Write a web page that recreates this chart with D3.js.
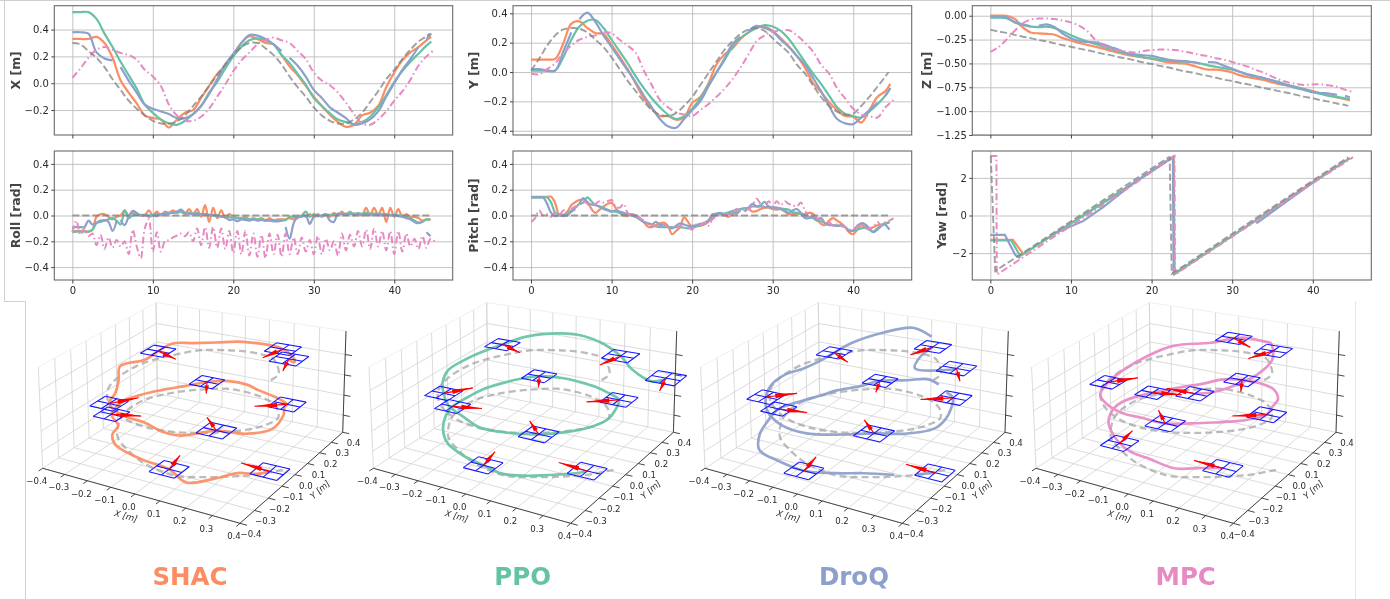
<!DOCTYPE html>
<html>
<head>
<meta charset="utf-8">
<script src="https://cdn.jsdelivr.net/npm/d3@7"></script>
<style>
  html, body { margin: 0; padding: 0; background: #fff; }
  svg { display: block; filter: blur(0.35px); }
  text { font-family: "DejaVu Sans", sans-serif; fill: #2a2a2a; }
</style>
</head>
<body>
<svg id="canvas" width="1390" height="599"></svg>
<script>
// time bases, seconds
const tRobot = [...d3.range(45), 44.6]
const tMpc = d3.range(46)
const tRef = [...d3.range(45), 44.4]
const tRobotFine = d3.range(0, 45, 0.5)
const tMpcFine = d3.range(0, 45.5, 0.5)
const tRefFlat = [0, 44.4]

const refX = [.30,.29,.24,.19,.12,.03,-.05,-.13,-.19,-.24,-.28,-.30,-.30,-.285,-.24,-.17,-.10,-.02,.06,.14,.21,.27,.30,.30,.26,.21,.14,.05,-.03,-.10,-.18,-.24,-.28,-.30,-.30,-.27,-.22,-.14,-.06,.03,.10,.18,.25,.31,.35,.37]
const shacX = [.33,.33,.33,.345,.30,.19,.02,-.07,-.15,-.24,-.26,-.27,-.33,-.27,-.22,-.20,-.11,-.02,.07,.13,.21,.30,.35,.33,.30,.29,.21,.125,.06,-.02,-.10,-.17,-.235,-.29,-.325,-.31,-.24,-.22,-.17,-.03,.08,.17,.23,.27,.32,.345]
const ppoX = [.53,.53,.53,.48,.37,.27,.16,.06,-.04,-.16,-.22,-.27,-.30,-.31,-.28,-.23,-.17,-.07,.01,.11,.20,.27,.32,.335,.32,.29,.21,.15,.07,-.01,-.11,-.17,-.225,-.27,-.29,-.305,-.29,-.25,-.18,-.09,.01,.09,.16,.22,.28,.31]
const droqX = [.38,.38,.37,.23,.185,.17,.12,.02,-.07,-.16,-.19,-.21,-.23,-.26,-.26,-.23,-.17,-.08,.03,.14,.22,.30,.36,.355,.33,.29,.24,.19,.13,.05,-.05,-.11,-.18,-.22,-.26,-.31,-.30,-.27,-.21,-.10,0,.10,.18,.27,.33,.37]
const mpcX = [.04,.11,.19,.25,.27,.25,.225,.21,.175,.10,.05,-.02,-.16,-.24,-.28,-.28,-.25,-.19,-.10,-.01,.09,.17,.23,.29,.32,.34,.32,.30,.24,.18,.08,.02,-.015,-.07,-.145,-.23,-.30,-.31,-.27,-.21,-.13,-.06,.025,.13,.20,.25]

const refY = [.01,.09,.18,.25,.29,.30,.295,.27,.22,.17,.10,.02,-.06,-.13,-.20,-.26,-.29,-.30,-.28,-.23,-.17,-.09,-.01,.07,.15,.21,.26,.29,.30,.28,.23,.18,.13,.05,-.01,-.09,-.17,-.23,-.27,-.29,-.285,-.23,-.17,-.10,-.03,0]
const shacY = [.085,.085,.085,.09,.195,.33,.345,.30,.265,.26,.185,.105,.02,-.08,-.18,-.25,-.30,-.30,-.325,-.31,-.21,-.17,-.08,.05,.12,.16,.225,.27,.30,.31,.28,.23,.175,.11,.03,-.075,-.135,-.205,-.26,-.30,-.305,-.345,-.26,-.17,-.13,-.08]
const ppoY = [.01,.01,.01,.01,.10,.22,.31,.35,.355,.30,.22,.14,.06,-.03,-.11,-.18,-.24,-.29,-.32,-.30,-.25,-.18,-.09,-.005,.08,.17,.23,.27,.30,.32,.31,.28,.225,.15,.07,-.01,-.08,-.16,-.24,-.285,-.30,-.31,-.27,-.22,-.16,-.11]
const droqY = [.02,.02,.01,.01,.14,.27,.36,.405,.34,.25,.17,.09,.01,-.07,-.16,-.24,-.32,-.37,-.38,-.32,-.26,-.20,-.10,-.005,.09,.19,.24,.28,.315,.30,.275,.22,.17,.11,.05,-.04,-.13,-.23,-.32,-.35,-.355,-.31,-.26,-.21,-.16,-.11]
const mpcY = [-.01,-.015,.02,.06,.13,.18,.22,.24,.25,.27,.265,.22,.18,.13,.01,-.09,-.19,-.24,-.275,-.29,-.30,-.26,-.22,-.17,-.115,-.05,.03,.12,.21,.25,.275,.28,.285,.25,.20,.14,.05,-.01,-.11,-.18,-.25,-.29,-.30,-.31,-.24,-.19]

const refZ = [-.145,-.165,-.18,-.20,-.22,-.235,-.255,-.27,-.29,-.31,-.325,-.345,-.36,-.38,-.40,-.415,-.435,-.45,-.47,-.49,-.505,-.525,-.54,-.56,-.58,-.595,-.615,-.63,-.65,-.67,-.685,-.705,-.72,-.74,-.76,-.775,-.795,-.81,-.83,-.85,-.865,-.885,-.90,-.92,-.935,-.945]
const shacZ = [0,0,0,-.03,-.12,-.175,-.185,-.19,-.20,-.235,-.26,-.285,-.305,-.325,-.345,-.37,-.39,-.41,-.425,-.44,-.45,-.47,-.49,-.495,-.50,-.52,-.545,-.565,-.565,-.575,-.595,-.625,-.645,-.66,-.675,-.70,-.72,-.73,-.75,-.77,-.79,-.815,-.835,-.855,-.875,-.89]
const ppoZ = [-.02,-.02,-.025,-.07,-.095,-.115,-.12,-.115,-.13,-.165,-.205,-.24,-.27,-.295,-.325,-.35,-.38,-.40,-.42,-.435,-.45,-.46,-.47,-.475,-.48,-.485,-.50,-.52,-.535,-.55,-.565,-.59,-.615,-.635,-.655,-.68,-.70,-.73,-.75,-.77,-.80,-.82,-.84,-.85,-.865,-.875]
const droqZ = [-.01,-.01,-.015,-.065,-.09,-.11,-.105,-.09,-.12,-.19,-.235,-.265,-.275,-.28,-.30,-.33,-.36,-.395,-.405,-.415,-.42,-.44,-.46,-.47,-.475,-.485,-.50,-.485,-.49,-.525,-.555,-.59,-.62,-.64,-.655,-.68,-.71,-.735,-.76,-.78,-.80,-.81,-.815,-.83,-.84,-.855]
const mpcZ = [-.38,-.33,-.25,-.16,-.08,-.04,-.03,-.03,-.035,-.05,-.07,-.105,-.16,-.25,-.315,-.345,-.365,-.375,-.385,-.37,-.36,-.355,-.355,-.36,-.375,-.39,-.41,-.425,-.445,-.46,-.485,-.51,-.535,-.57,-.60,-.64,-.675,-.70,-.715,-.725,-.72,-.72,-.73,-.745,-.775,-.80]

const refFlat = [0, 0]
const shacRoll = [-.12,-.12,-.12,-.12,-.125,-.11,-.01,.01,.01,-.01,-.03,-.01,0,.04,0,.02,.01,0,0,.04,0,.03,0,.03,.02,.04,.02,.04,.01,.05,.01,.05,-.01,.08,-.05,.06,-.02,.04,-.02,.01,-.01,-.02,-.02,-.01,-.03,-.02,-.03,-.02,-.04,-.02,-.04,-.03,-.03,-.03,-.02,-.03,-.02,0,-.01,.01,-.01,.01,-.01,.01,-.01,.02,0,.03,0,.03,0,.02,0,.06,0,.06,0,.06,-.05,.06,-.01,.05,-.01,.01,-.01,-.01,-.02,-.04,-.03,-.03]
const ppoRoll = [-.13,-.125,-.125,-.125,-.125,-.11,-.06,-.05,-.04,-.03,-.02,-.04,-.07,.04,-.02,0,.005,.005,.005,0,.005,.01,.01,.015,.02,.02,.025,.025,.02,.02,.015,.02,.01,.01,0,.005,0,-.005,-.01,-.015,-.015,-.02,-.025,-.025,-.03,-.03,-.03,-.03,-.035,-.035,-.035,-.04,-.04,-.035,-.01,-.01,-.015,0,.03,-.01,.01,-.005,0,.005,.005,.01,.01,.01,.015,.02,.015,.015,.015,.02,.015,.015,.015,.01,.01,.005,.005,0,0,-.01,-.02,-.04,-.055,-.05,-.03,-.035]
const droqRoll = [-.09,-.09,-.09,-.09,-.04,-.07,-.055,-.04,-.035,-.05,-.12,-.04,-.035,-.075,-.01,.035,.02,0,.005,-.01,0,-.005,.01,.015,.015,.025,.03,.045,.02,.015,.01,.015,.01,.01,.005,0,-.005,-.01,-.01,-.035,-.03,-.045,-.03,-.035,-.04,-.03,-.04,-.035,-.04,-.04,-.045,-.045,-.04,-.09,-.18,-.06,-.01,-.01,0,-.065,-.01,-.005,0,.01,-.04,-.05,.015,.01,.005,.01,.01,.01,.005,.01,.005,.01,.005,0,.005,0,0,-.005,-.01,-.02,-.03,-.05,-.06,-.045,-.13,-.16]
const mpcRoll = [-.13,-.04,-.15,-.1,-.16,-.14,-.23,-.15,-.26,-.17,-.25,-.19,-.24,-.2,-.3,-.11,-.24,-.33,-.1,-.03,-.28,-.13,-.28,-.2,-.19,-.17,-.155,-.14,-.16,-.13,-.2,-.1,-.23,-.09,-.25,-.09,-.25,-.1,-.26,-.12,-.29,-.12,-.3,-.12,-.31,-.14,-.32,-.15,-.33,-.14,-.3,-.15,-.32,-.14,-.3,-.17,-.3,-.17,-.28,-.19,-.3,-.16,-.3,-.18,-.27,-.2,-.31,-.14,-.27,-.15,-.24,-.12,-.24,-.11,-.26,-.1,-.24,-.12,-.27,-.12,-.3,-.12,-.28,-.14,-.24,-.18,-.26,-.16,-.25,-.18,-.2]

const shacPitch = [.145,.145,.145,.145,.145,.145,.095,.005,.005,.03,.08,.105,.12,.125,.105,.05,.02,.045,.07,.09,.10,.06,.02,0,-.005,.01,0,-.02,-.05,-.085,-.09,-.075,-.06,-.055,-.08,-.145,-.12,-.09,-.015,-.05,-.09,-.085,-.08,-.07,-.05,.01,.01,.015,.005,-.01,.01,.03,.05,.055,.05,.03,.035,.05,.06,.06,.05,.045,.05,.03,.01,.01,.015,.015,.01,.02,.015,-.03,-.065,-.075,-.04,-.02,-.04,-.06,-.09,-.13,-.145,-.11,-.075,-.09,-.10,-.09,-.075,-.07,-.06,-.055]
const ppoPitch = [.14,.14,.14,.14,.14,.10,.02,.01,0,.01,.04,.06,.09,.10,.14,.11,.08,.07,.06,.045,.035,.03,.02,.01,.01,0,-.01,-.03,-.05,-.06,-.07,-.085,-.09,-.09,-.09,-.09,-.09,-.09,-.095,-.10,-.095,-.085,-.075,-.06,-.04,-.02,0,.01,.015,.025,.035,.045,.05,.055,.06,.07,.07,.08,.105,.07,.065,.06,.055,.05,.045,.025,.02,.01,0,-.01,-.02,-.04,-.045,-.06,-.07,-.075,-.08,-.08,-.09,-.115,-.12,-.11,-.10,-.095,-.11,-.125,-.10,-.08,-.065,-.05]
const droqPitch = [.14,.14,.14,.14,.09,.02,-.005,0,-.005,0,.03,.05,.09,.135,.10,.085,.08,.07,.05,.04,.03,.04,.03,.02,.01,0,-.01,-.03,-.05,-.06,-.07,-.05,-.075,-.07,-.09,-.10,-.08,-.06,-.07,-.08,-.08,-.075,-.065,-.06,-.04,0,.015,.02,.01,.01,.025,.015,.04,.03,.06,.09,.07,.07,.065,.065,.06,.06,.05,.04,.02,.04,.05,.02,-.02,-.02,-.01,-.03,-.02,-.06,-.075,-.075,-.08,-.075,-.09,-.12,-.115,-.08,-.06,-.07,-.10,-.13,-.11,-.08,-.07,-.11]
const mpcPitch = [-.05,-.02,.04,0,.01,-.01,.03,0,.04,.03,.05,.07,.08,.11,.09,.06,.09,.11,.10,.11,.12,.07,.06,.09,.02,.01,0,-.02,-.04,-.06,-.07,-.08,-.09,-.07,-.09,-.085,-.10,-.075,-.10,-.09,-.11,-.07,-.075,-.055,-.08,-.03,-.01,.01,0,.02,.02,.05,.03,.05,.05,.08,.13,.09,.07,.11,.07,.11,.08,.11,.09,.08,.07,.10,.04,-.01,.01,-.02,-.03,-.05,-.05,-.08,-.07,-.08,-.09,-.11,-.10,-.09,-.07,-.10,-.10,-.09,-.05,-.08,-.05,-.04,-.02]

// yaw is a ramp with wrap-arounds, so it only has breakpoints
const refYawT = [0, .05, .6, 22.15, 22.25, 22.5, 44.4]
const refYaw = [3.14, 3.14, -2.95, 3.1, 3.1, -3.1, 3.1]
const shacYawT = [0, 2.8, 4.1, 8, 13, 18, 22.75, 22.85, 33, 40, 44.6]
const shacYaw = [-1.3, -1.3, -2.05, -.95, .42, 1.8, 3.12, -3.12, -.23, 1.77, 3.05]
const ppoYawT = [0, 2.6, 3.7, 8, 13, 18, 22.7, 22.8, 33, 40, 44.6]
const ppoYaw = [-1.33, -1.33, -2.15, -.98, .4, 1.78, 3.12, -3.1, -.25, 1.75, 3.05]
const droqYawT = [0, 1.8, 3.1, 3.7, 8, 11.5, 14, 18, 22.65, 22.75, 33, 40, 44.6]
const droqYaw = [-1.03, -1.03, -2.1, -2.27, -.95, -.3, .45, 1.8, 3.12, -3.12, -.42, 1.75, 3.05]
const mpcYawT = [0, .75, .8, 8, 13, 18, 22.85, 22.9, 33, 40, 45]
const mpcYaw = [3.17, 3.17, -3.15, -1.1, .28, 1.72, 3.16, -3.14, -.28, 1.72, 3.1]

// the DroQ log drops out for a moment at these times
const droqGaps = [5.6, 26.4, 43.9]

const timeTicks = [0, 10, 20, 30, 40]
const xyzTicks3d = [-.4, -.3, -.2, -.1, 0, .1, .2, .3, .4]
const zTicks3d = [-.8, -.6, -.4, -.2]
const droneEvery = d3.range(0, 46, 5)

const colShac = '#fc8d62', colPpo = '#66c2a5', colDroq = '#8da0cb', colMpc = '#e78ac3', colRef = '#808080'

const methods = [
    {name: 'SHAC', color: colShac, t: tRobot, tf: tRobotFine, x: shacX, y: shacY, z: shacZ, roll: shacRoll, pitch: shacPitch, yawT: shacYawT, yaw: shacYaw, gaps: [], dx: 0, labelX: 190},
    {name: 'PPO', color: colPpo, t: tRobot, tf: tRobotFine, x: ppoX, y: ppoY, z: ppoZ, roll: ppoRoll, pitch: ppoPitch, yawT: ppoYawT, yaw: ppoYaw, gaps: [], dx: 330.7, labelX: 522.7},
    {name: 'DroQ', color: colDroq, t: tRobot, tf: tRobotFine, x: droqX, y: droqY, z: droqZ, roll: droqRoll, pitch: droqPitch, yawT: droqYawT, yaw: droqYaw, gaps: droqGaps, dx: 662.3, labelX: 854},
    {name: 'MPC', color: colMpc, t: tMpc, tf: tMpcFine, x: mpcX, y: mpcY, z: mpcZ, roll: mpcRoll, pitch: mpcPitch, yawT: mpcYawT, yaw: mpcYaw, gaps: [], dx: 993.3, labelX: 1185.7}
]

let canvas = d3.select('#canvas')

// faint frame left over from the pasted figures
canvas.append('path')
    .attr('d', 'M0,0.5H1390M4.5,0V301.5H25.5V599')
    .attr('fill', 'none').attr('stroke', '#cfcfcf').attr('stroke-width', 1)
canvas.append('path')
    .attr('d', 'M1355.5,301V599')
    .attr('fill', 'none').attr('stroke', '#e6e6e6').attr('stroke-width', 1)

// ---------- top charts ----------
const panelLeft = [54.3, 513, 972.3]
const panelRight = [452.7, 911.7, 1371.3]
const rowTop = [5.7, 151]
const rowBottom = [135, 280]

const panels = [
    {label: 'X [m]', col: 0, row: 0, dom: [-.386, .578], ticks: [-.2, 0, .2, .4], fmt: '.1f', key: 'x', ref: refX, labelX: 15.7},
    {label: 'Y [m]', col: 1, row: 0, dom: [-.429, .452], ticks: [-.4, -.2, 0, .2, .4], fmt: '.1f', key: 'y', ref: refY, labelX: 473.3},
    {label: 'Z [m]', col: 2, row: 0, dom: [-1.25, .105], ticks: [-1.25, -1, -.75, -.5, -.25, 0], fmt: '.2f', key: 'z', ref: refZ, labelX: 927},
    {label: 'Roll [rad]', col: 0, row: 1, dom: [-.5, .5], ticks: [-.4, -.2, 0, .2, .4], fmt: '.1f', key: 'roll', labelX: 15.7},
    {label: 'Pitch [rad]', col: 1, row: 1, dom: [-.5, .5], ticks: [-.4, -.2, 0, .2, .4], fmt: '.1f', key: 'pitch', labelX: 474},
    {label: 'Yaw [rad]', col: 2, row: 1, dom: [-3.43, 3.43], ticks: [-2, 0, 2], fmt: 'd', key: 'yaw', labelX: 941.7}
]

// cut a list of points wherever a gap time falls between two neighbours
function splitAtGaps(points, gaps) {
    let parts = [[]]
    points.forEach((p, i) => {
        if (i > 0 && gaps.some((g) => points[i - 1].t <= g && g < p.t)) parts.push([])
        parts[parts.length - 1].push(p)
    })
    return parts
}

function drawPanel(panel) {
    let left = panelLeft[panel.col], right = panelRight[panel.col]
    let top = rowTop[panel.row], bottom = rowBottom[panel.row]
    let xScale = d3.scaleLinear().domain([-2.24, 47.26]).range([left, right])
    let yScale = d3.scaleLinear().domain(panel.dom).range([bottom, top])

    let g = canvas.append('g')

    g.append('g').attr('transform', 'translate(0,' + bottom + ')')
        .call(d3.axisBottom(xScale).tickValues(timeTicks).tickSize(top - bottom).tickFormat(''))
        .call((a) => a.select('.domain').remove())
        .selectAll('line').attr('stroke', '#bcbcbc').attr('stroke-width', 0.9)
    g.append('g').attr('transform', 'translate(' + left + ',0)')
        .call(d3.axisLeft(yScale).tickValues(panel.ticks).tickSize(left - right).tickFormat(''))
        .call((a) => a.select('.domain').remove())
        .selectAll('line').attr('stroke', '#bcbcbc').attr('stroke-width', 0.9)

    let line = d3.line().x((p) => xScale(p.t)).y((p) => yScale(p.v))
        .curve(panel.key === 'yaw' ? d3.curveLinear : d3.curveCatmullRom)

    let series = methods.map((m) => {
        let ts = m.t
        if (panel.key === 'roll' || panel.key === 'pitch') ts = m.tf
        if (panel.key === 'yaw') ts = m.yawT
        return {m: m, points: m[panel.key].map((v, i) => ({t: ts[i], v: v}))}
    })
    let refValues = panel.ref || (panel.key === 'yaw' ? refYaw : refFlat)
    let refTimes = panel.ref ? tRef : (panel.key === 'yaw' ? refYawT : tRefFlat)

    series.forEach((s) => {
        splitAtGaps(s.points, s.m.gaps).forEach((part) => {
            g.append('path').attr('d', line(part))
                .attr('fill', 'none').attr('stroke', s.m.color)
                .attr('stroke-width', s.m.name === 'MPC' ? 2 : 2.2)
                .attr('stroke-dasharray', s.m.name === 'MPC' ? '7,3,1.5,3' : null)
        })
    })
    g.append('path').attr('d', line(refValues.map((v, i) => ({t: refTimes[i], v: v}))))
        .attr('fill', 'none').attr('stroke', colRef).attr('stroke-opacity', 0.75)
        .attr('stroke-width', 1.9).attr('stroke-dasharray', '7,3')

    g.append('rect').attr('x', left).attr('y', top)
        .attr('width', right - left).attr('height', bottom - top)
        .attr('fill', 'none').attr('stroke', '#6a6a6a').attr('stroke-width', 1.1)

    let xAxis = g.append('g').attr('transform', 'translate(0,' + bottom + ')')
        .call(d3.axisBottom(xScale).tickValues(timeTicks).tickSize(3.5).tickPadding(3.5)
            .tickFormat(panel.row === 1 ? d3.format('d') : ''))
    let yAxis = g.append('g').attr('transform', 'translate(' + left + ',0)')
        .call(d3.axisLeft(yScale).tickValues(panel.ticks).tickSize(3).tickPadding(2.5)
            .tickFormat(d3.format(panel.fmt)))
    ;[xAxis, yAxis].forEach((a) => {
        a.select('.domain').remove()
        a.selectAll('text').attr('font-size', 10).attr('font-family', '"DejaVu Sans"').attr('fill', '#2a2a2a')
        a.selectAll('line').attr('stroke', '#444')
    })

    g.append('text').text(panel.label)
        .attr('transform', 'translate(' + panel.labelX + ',' + (top + bottom) / 2 + ') rotate(-90)')
        .attr('text-anchor', 'middle').attr('dy', '0.35em')
        .attr('font-size', 12.4).attr('font-weight', 'bold').style('fill', '#444')
}

panels.forEach(drawPanel)

// ---------- 3D views ----------
const zLimits = [-.973, .027]
const uScale = d3.scaleLinear().domain([-.4, .4]).range([0, 1])
const wScale = d3.scaleLinear().domain(zLimits).range([0, 1])

// camera from the box corners of the first view: A(x-,y-) B(x+,y-) C(x+,y+) D(x-,y+) on
// the floor, plus the tops of A and C
const cornerA = [42.7, 468.3], cornerB = [240, 523.3], cornerC = [342.7, 432.3], cornerD = [157.3, 393.5]
const topA = [38.3, 367], topC = [346, 333]

function makeCamera() {
    let [x0, y0] = cornerA, [x1, y1] = cornerB, [x2, y2] = cornerC, [x3, y3] = cornerD
    let dx1 = x1 - x2, dx2 = x3 - x2, sx = x0 - x1 + x2 - x3
    let dy1 = y1 - y2, dy2 = y3 - y2, sy = y0 - y1 + y2 - y3
    let det = dx1 * dy2 - dx2 * dy1
    let g = (sx * dy2 - dx2 * sy) / det
    let h = (dx1 * sy - sx * dy1) / det
    let a = x1 - x0 + g * x1, b = x3 - x0 + h * x3
    let d = y1 - y0 + g * y1, e = y3 - y0 + h * y3
    let W = g + h + 1
    let n = ((topC[0] - x2) * W + x0 - topA[0]) / (topA[0] - topC[0])
    let zx = topA[0] * (1 + n) - x0
    let zy = topA[1] * (1 + n) - y0
    return (x, y, z) => {
        let u = uScale(x), v = uScale(y), w = wScale(z)
        let q = g * u + h * v + n * w + 1
        return [(a * u + b * v + zx * w + x0) / q, (d * u + e * v + zy * w + y0) / q]
    }
}

const camera = makeCamera()

canvas.append('clipPath').attr('id', 'clip3d').append('rect')
    .attr('x', 0).attr('y', 301.5).attr('width', 1390).attr('height', 298)

const seg = d3.line()
const pathLine = d3.line().curve(d3.curveCatmullRom)
const tickFmt = d3.format('.1f')

function draw3d(m) {
    let g = canvas.append('g').attr('transform', 'translate(' + m.dx + ',0)')
    let view = g.append('g').attr('clip-path', 'url(#clip3d)')
    let [zLo, zHi] = zLimits
    let lines = view.append('g').attr('fill', 'none').attr('stroke', '#d2d2d2').attr('stroke-width', 0.8)
    let add = (p, q) => lines.append('path').attr('d', seg([camera(...p), camera(...q)]))

    xyzTicks3d.forEach((k) => {
        add([k, -.4, zLo], [k, .4, zLo])     // floor
        add([-.4, k, zLo], [.4, k, zLo])
        add([-.4, k, zLo], [-.4, k, zHi])    // left wall
        add([k, .4, zLo], [k, .4, zHi])      // back wall
    })
    zTicks3d.forEach((z) => {
        add([-.4, -.4, z], [-.4, .4, z])
        add([-.4, .4, z], [.4, .4, z])
    })
    view.append('path').attr('d', seg([camera(-.4, -.4, zHi), camera(-.4, .4, zHi), camera(.4, .4, zHi)]))
        .attr('fill', 'none').attr('stroke', '#ececec').attr('stroke-width', 0.8)

    // axes
    let axes = g.append('g').attr('fill', 'none').attr('stroke', '#333').attr('stroke-width', 0.9)
    axes.append('path').attr('d', seg([camera(-.4, -.4, zLo), camera(.4, -.4, zLo), camera(.4, .4, zLo), camera(.4, .4, zHi)]))
    xyzTicks3d.forEach((k) => {
        axes.append('path').attr('d', seg([camera(k, -.4, zLo), camera(k, -.425, zLo)]))
        axes.append('path').attr('d', seg([camera(.4, k, zLo), camera(.425, k, zLo)]))
        let px = camera(k, -.4, zLo), py = camera(.4, k, zLo)
        g.append('text').text(tickFmt(k)).attr('x', px[0] - 6).attr('y', px[1] + 13)
            .attr('text-anchor', 'middle').attr('dy', '0.35em').attr('font-size', 8.6)
        g.append('text').text(tickFmt(k)).attr('x', py[0] + 11).attr('y', py[1] + 11)
            .attr('text-anchor', 'middle').attr('dy', '0.35em').attr('font-size', 8.6)
    })
    zTicks3d.forEach((z) => {
        axes.append('path').attr('d', seg([camera(.4, .4, z), camera(.425, .4, z)]))
    })
    let xMid = camera(0, -.4, zLo), yMid = camera(.4, 0, zLo)
    g.append('text').text('X [m]').attr('font-size', 8.6).attr('font-style', 'italic')
        .attr('text-anchor', 'middle').attr('dy', '0.35em')
        .attr('transform', 'translate(' + (xMid[0] - 9) + ',' + (xMid[1] + 22) + ') rotate(15.5)')
    g.append('text').text('Y [m]').attr('font-size', 8.6).attr('font-style', 'italic')
        .attr('text-anchor', 'middle').attr('dy', '0.35em')
        .attr('transform', 'translate(' + (yMid[0] + 25) + ',' + (yMid[1] + 15) + ') rotate(-41.5)')

    // reference and flown path, same data as the charts above
    view.append('path').attr('d', pathLine(refX.map((v, i) => camera(v, refY[i], refZ[i]))))
        .attr('fill', 'none').attr('stroke', '#a0a0a0').attr('stroke-opacity', 0.7)
        .attr('stroke-width', 2.3).attr('stroke-dasharray', '7,4')

    let points = m.x.map((v, i) => ({t: m.t[i], p: camera(v, m.y[i], m.z[i])}))
    splitAtGaps(points, m.gaps).forEach((part) => {
        view.append('path').attr('d', pathLine(part.map((q) => q.p)))
            .attr('fill', 'none').attr('stroke', m.color).attr('stroke-opacity', 0.92).attr('stroke-width', 2.7)
    })

    // drone markers
    let yawAt = d3.scaleLinear().domain(m.yawT).range(m.yaw).clamp(true)
    droneEvery.forEach((i) => {
        let x = m.x[i], y = m.y[i], z = m.z[i]
        let s = .05
        let frame = view.append('g').attr('fill', 'none').attr('stroke', '#1414ff').attr('stroke-width', 1.05)
        ;[-s, 0, s].forEach((k) => {
            frame.append('path').attr('d', seg([camera(x + k, y - s, z), camera(x + k, y + s, z)]))
            frame.append('path').attr('d', seg([camera(x - s, y + k, z), camera(x + s, y + k, z)]))
        })
        let yaw = yawAt(m.t[i])
        let c = camera(x, y, z), tip = camera(x + .115 * Math.cos(yaw), y + .115 * Math.sin(yaw), z)
        let ux = tip[0] - c[0], uy = tip[1] - c[1], len = Math.hypot(ux, uy)
        let nx = -uy / len, ny = ux / len
        let bx = c[0] + ux * .3, by = c[1] + uy * .3
        view.append('path').attr('d', seg([c, tip])).attr('stroke', '#f00').attr('stroke-width', 1.2)
        view.append('path')
            .attr('d', seg([[bx + nx * 2.3, by + ny * 2.3], tip, [bx - nx * 2.3, by - ny * 2.3]]) + 'Z')
            .attr('fill', '#f00')
    })

    canvas.append('text').text(m.name).attr('x', m.labelX).attr('y', 585)
        .attr('text-anchor', 'middle').attr('font-size', 24.5).attr('font-weight', 'bold')
        .style('fill', m.color)
}

methods.forEach(draw3d)
</script>
</body>
</html>
